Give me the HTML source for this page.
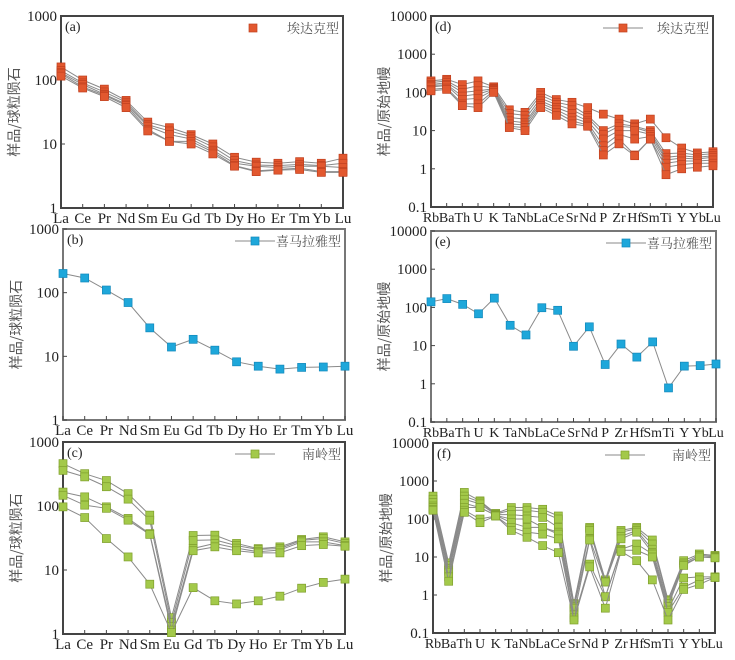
<!DOCTYPE html>
<html><head><meta charset="utf-8"><style>
html,body{margin:0;padding:0;background:#fff;}
svg{display:block;font-family:"Liberation Serif","Noto Serif CJK SC",serif;}
</style></head><body>
<svg id="fig" width="735" height="660" viewBox="0 0 735 660" xmlns="http://www.w3.org/2000/svg"></svg>
<script>
const reeCats = ["La","Ce","Pr","Nd","Sm","Eu","Gd","Tb","Dy","Ho","Er","Tm","Yb","Lu"];
const spiderCats = ["Rb","Ba","Th","U","K","Ta","Nb","La","Ce","Sr","Nd","P","Zr","Hf","Sm","Ti","Y","Yb","Lu"];
const reeTicks = ["1","10","100","1000"];
const spiderTicks = ["0.1","1","10","100","1000","10000"];

const adakiteREE = [
 [160,100,72,48,22,18,14,10,6.2,5.2,5,5.3,5,6],
 [140,90,65,45,20,16,13,9,5.5,4.7,4.6,4.8,4.6,5],
 [130,85,60,42,19,14,12,8,5,4.5,4.3,4.5,4.5,4.3],
 [125,78,58,40,17,11,11,7.5,4.6,3.8,4,4.2,3.7,3.7],
 [115,75,55,37,16,11,10,7,4.5,3.7,3.9,4,3.6,3.6]
];
const himalayanREE = [
 [200,170,110,70,28,14,18.5,12.5,8.2,7,6.3,6.7,6.8,7]
];
const nanlingREE = [
 [459,320,250,156,72,1.8,34.6,35,26,21.6,23,30,33,27.5],
 [360,285,200,128,60,1.5,29,29.5,24,21,21.7,29,31,26],
 [165,139,97,64,37,1.3,21.7,26,22,19.3,20.5,27.5,27.5,24],
 [147,103,92,60,36,1.15,20,23,20,18.5,18.5,24,25,23.5],
 [97,66,31,16,6,1.05,5.3,3.3,2.95,3.3,3.9,5.2,6.4,7.2]
];
const adakiteSpider = [
 [200,220,160,200,140,35,30,100,65,55,40,27,20,15,20,6.5,3.5,2.6,2.8],
 [180,200,120,150,130,28,25,85,55,45,25,10,15,13,10,2.5,2.6,2.3,2.5],
 [160,180,100,110,125,22,20,70,48,35,22,8,13,12,9,2.0,2.2,2.0,2.2],
 [150,160,80,90,120,18,16,60,40,28,18,6,10,10,8,1.7,1.9,1.8,2.0],
 [140,150,65,70,115,15,14,52,35,22,16,4,8,6,7,1.4,1.6,1.6,1.7],
 [120,130,50,50,110,13,12,45,30,18,14,3,6,2.3,6,1.1,1.3,1.4,1.4],
 [110,120,45,40,100,12,10,40,25,15,13,2.3,4.5,2.2,6,0.7,1.0,1.1,1.2]
];
const himalayanSpider = [
 [140,170,120,68,175,34,19,98,84,9.6,31,3.2,11,5,12.5,0.78,2.9,3.0,3.3]
];
const nanlingSpider = [
 [400,7,500,300,140,200,200,180,120,0.6,60,2.5,50,60,28,0.75,8,12,11],
 [330,6,400,280,135,170,170,150,100,0.55,55,2.3,45,55,22,0.7,7,11,10.5],
 [270,5,330,250,130,130,120,110,60,0.5,50,2.2,35,50,16,0.6,6.5,10,10],
 [220,4.5,260,200,125,100,100,60,45,0.45,30,2.2,30,45,13,0.5,6,10,9.5],
 [200,4,200,200,125,80,60,60,40,0.3,28,0.9,16,22,12,0.4,2.8,3,3],
 [180,3,170,100,120,60,45,40,30,0.25,6.5,0.9,15,15,10,0.35,1.6,2.5,2.9],
 [170,2.3,150,80,120,50,33,20,13,0.22,5.5,0.45,14,8,2.5,0.22,1.4,1.9,2.9]
];

const NS="http://www.w3.org/2000/svg";
const svg=document.getElementById('fig');
function mk(tag,attrs,parent){const e=document.createElementNS(NS,tag);for(const k in attrs)e.setAttribute(k,attrs[k]);(parent||svg).appendChild(e);return e;}

const ORANGE={fill:"#e2582f",stroke:"#c0401f"};
const BLUE={fill:"#1ea7da",stroke:"#1188bb"};
const GREEN={fill:"#a3c94a",stroke:"#7f9f2c"};

const panels=[
 {id:"a",x0:61,x1:343,y0:16,y1:208,cats:reeCats,ticks:reeTicks,lmin:0,lmax:3,data:adakiteREE,col:ORANGE,legend:"埃达克型",legLine:false,title:"样品/球粒陨石",border:"#444"},
 {id:"b",x0:63,x1:345,y0:229,y1:420,cats:reeCats,ticks:reeTicks,lmin:0,lmax:3,data:himalayanREE,col:BLUE,legend:"喜马拉雅型",legLine:true,title:"样品/球粒陨石",border:"#777"},
 {id:"c",x0:63,x1:345,y0:442,y1:634,cats:reeCats,ticks:reeTicks,lmin:0,lmax:3,data:nanlingREE,col:GREEN,legend:"南岭型",legLine:true,title:"样品/球粒陨石",border:"#444"},
 {id:"d",x0:431,x1:713,y0:16,y1:207,cats:spiderCats,ticks:spiderTicks,lmin:-1,lmax:4,data:adakiteSpider,col:ORANGE,legend:"埃达克型",legLine:true,title:"样品/原始地幔",border:"#444"},
 {id:"e",x0:431,x1:716,y0:231,y1:422,cats:spiderCats,ticks:spiderTicks,lmin:-1,lmax:4,data:himalayanSpider,col:BLUE,legend:"喜马拉雅型",legLine:true,title:"样品/原始地幔",border:"#777"},
 {id:"f",x0:433,x1:715,y0:443,y1:633,cats:spiderCats,ticks:spiderTicks,lmin:-1,lmax:4,data:nanlingSpider,col:GREEN,legend:"南岭型",legLine:true,title:"样品/原始地幔",border:"#444"}
];

panels.forEach(p=>{
 const g=mk('g',{});
 
 
 const xs=i=>p.x0+i*(p.x1-p.x0)/(p.cats.length-1);
 const ys=v=>p.y1-(Math.log10(v)-p.lmin)/(p.lmax-p.lmin)*(p.y1-p.y0);
 const box=mk('rect',{x:p.x0,y:p.y0,width:p.x1-p.x0,height:p.y1-p.y0,fill:"none",stroke:p.border,"stroke-width":2},g);
 
 
 p.ticks.forEach((t,i)=>{
  const y=ys(Math.pow(10,p.lmin+i));
  const tl=mk('text',{x:p.x0-4,y:y+5,"text-anchor":"end","font-size":15,fill:"#222"},g);
  tl.textContent=t;
  
  
  mk('line',{x1:p.x0,x2:p.x0+4,y1:y,y2:y,stroke:"#444"},g);
 });
 p.cats.forEach((c,i)=>{
  const x=xs(i);
  mk('line',{x1:x,x2:x,y1:p.y1,y2:p.y1-4,stroke:"#444"},g);
  const tl=mk('text',{x:x,y:p.y1+15,"text-anchor":"middle","font-size":p.cats.length>14?14:15,fill:"#222"},g);
  tl.textContent=c;
  
  
 });
 const cx=p.x0-42, cy=(p.y0+p.y1)/2;
 const tt=mk('text',{x:cx,y:cy,"text-anchor":"middle","font-size":14,fill:"#555",transform:`rotate(-90 ${cx} ${cy})`,"font-family":"'Noto Sans CJK SC',sans-serif"},g);
 tt.textContent=p.title;
 
 
 const pl=mk('text',{x:p.x0+4,y:p.y0+15,"font-size":14,fill:"#222"},g);
 pl.textContent='('+p.id+')';
 
 
 p.data.forEach((s,si)=>{
  const sg=mk('g',{},g);
  
  
  mk('polyline',{points:s.map((v,i)=>xs(i)+','+ys(v)).join(' '),fill:"none",stroke:"#8a8a8a","stroke-width":1},sg);
  s.forEach((v,i)=>{
   const m=mk('rect',{x:xs(i)-4,y:ys(v)-4,width:8,height:8,fill:p.col.fill,stroke:p.col.stroke,"stroke-width":0.7},sg);
   
   
  });
 });
 const lg=mk('g',{},g);
 
 
 const lx=p.x1-90, ly=p.y0+12;
 if(p.legLine) mk('line',{x1:lx-20,x2:lx+20,y1:ly,y2:ly,stroke:"#8a8a8a"},lg);
 mk('rect',{x:lx-4,y:ly-4,width:8,height:8,fill:p.col.fill,stroke:p.col.stroke,"stroke-width":0.7},lg);
 const lt=mk('text',{x:p.x1-4,y:ly+5,"text-anchor":"end","font-size":13,fill:"#555","font-family":"'Noto Serif CJK SC',serif"},lg);
 lt.textContent=p.legend;
});
</script>
</body></html>
